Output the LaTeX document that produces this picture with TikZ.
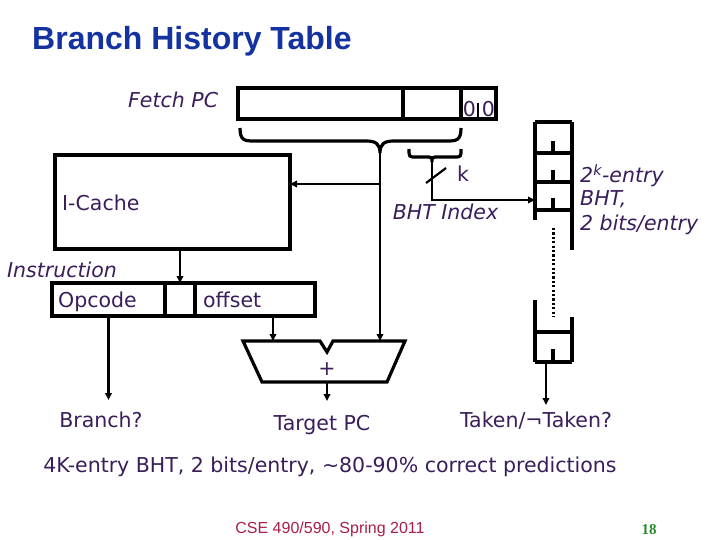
\documentclass[tikz,border=0pt]{standalone}
\usepackage{fontspec}
\setmainfont{DejaVu Sans}
\newfontfamily\titlefont{Liberation Sans}
\newfontfamily\footfont{Liberation Sans}
\newfontfamily\numfont{Liberation Serif}
\usetikzlibrary{arrows.meta}
\definecolor{txt}{RGB}{58,30,90}
\definecolor{ttl}{RGB}{20,50,160}
\definecolor{foot}{RGB}{170,30,70}
\definecolor{pg}{RGB}{40,140,40}
\tikzset{
  box/.style={draw, line width=3.2pt, inner sep=0pt, outer sep=0pt},
  thickline/.style={line width=3.2pt},
  wire/.style={line width=2.2pt},
  arr/.style={line width=2.2pt, -{Triangle[length=7pt,width=6.5pt]}},
  lbl/.style={text=txt, font=\fontsize{20.5}{24}\selectfont, inner sep=0pt},
  ilbl/.style={text=txt, font=\fontsize{20.5}{24}\selectfont\itshape, inner sep=0pt},
}
\begin{document}
\begin{tikzpicture}[x=1pt,y=-1pt]
\useasboundingbox (0,0) rectangle (720,540);
\fill[white] (0,0) rectangle (720,540);

% title
\node[anchor=base west, text=ttl, inner sep=0pt, font=\titlefont\fontsize{32}{38}\selectfont\bfseries] (title) at (32,50) {Branch History Table};

% Fetch PC register
\node[ilbl, anchor=base west] (fetchlbl) at (128,108) {Fetch PC};
\node[box, minimum width=258pt, minimum height=31pt] (fpc) at (367,103.5) {};
\draw[thickline] (403,88) -- (403,119);
\draw[thickline] (461,88) -- (461,119);
\draw[wire] (478,103) -- (478,119);
\node[lbl, anchor=base] (z1) at (469.5,117) {0};
\node[lbl, anchor=base] (z2) at (488.5,117) {0};

% braces
\draw[thickline] (240,128) .. controls (240,141) and (245,141) .. (255,141) -- (366,141)
  .. controls (376,141) and (380,144) .. (380,153)
  .. controls (380,144) and (384,141) .. (394,141) -- (446,141)
  .. controls (456,141) and (461,141) .. (461,128);
\coordinate (bigtip) at (380,152);
\draw[thickline] (409,149) .. controls (409,157) .. (416,157) -- (425,157)
  .. controls (432,157) .. (432,162)
  .. controls (432,157) .. (439,157) -- (454,157)
  .. controls (461,157) .. (461,149);
\coordinate (smalltip) at (432,161);

% I-Cache
\node[box, minimum width=235pt, minimum height=94pt] (icache) at (172.5,202) {};
\node[lbl, anchor=base west] (iclbl) at (62,211) {I-Cache};

% BHT index path
\coordinate (bhtin) at (535,200);
\draw[arr] (smalltip) |- (bhtin);
\draw[wire] (426,183) -- (446,168);
\node[lbl, anchor=base] (klbl) at (463,182) {k};
\node[ilbl, anchor=base] (bhtidx) at (445.5,219) {BHT Index};

% branch from big brace
\coordinate (jn) at (380,184);
\coordinate (addR) at (380,341);
\draw[arr, line width=2.7pt] (bigtip) -- (addR);
\draw[arr] (jn) -- (icache.east |- jn);

% BHT table
\draw[thickline] (535,122) -- (535,220);
\draw[thickline] (572,122) -- (572,250);
\foreach \yy in {122,153,182,210} \draw[thickline] (535,\yy) -- (572,\yy);
\foreach \yy in {153,182,210} \draw[thickline] (553,\yy) -- (553,\yy-12);
\draw[line width=3pt, dash pattern=on 2.2pt off 2.2pt] (553,228) -- (553,317);
\draw[thickline] (535,300) -- (535,362);
\draw[thickline] (572,317) -- (572,362);
\draw[thickline] (535,332) -- (572,332);
\draw[thickline] (535,362) -- (572,362);
\draw[thickline] (553,362) -- (553,349);
\coordinate (bhtout) at (546,362);
\coordinate (takentip) at (546,405);
\draw[arr] (bhtout) -- (takentip);
\node[ilbl, anchor=base west] (bht1) at (580,183) {2\textsuperscript{k}-entry};
\node[ilbl, anchor=base west] (bht2) at (580,206) {BHT,};
\node[ilbl, anchor=base west] (bht3) at (580,230) {2 bits/entry};

% Instruction register
\node[ilbl, anchor=base west] (instrlbl) at (7,277) {Instruction};
\node[box, minimum width=113pt, minimum height=33pt] (opc) at (108.5,299.5) {};
\node[box, minimum width=30pt, minimum height=33pt] (mid) at (180,299.5) {};
\node[box, minimum width=120pt, minimum height=33pt] (off) at (255,299.5) {};
\node[lbl, anchor=base west] (opclbl) at (58,307) {Opcode};
\node[lbl, anchor=base west] (offlbl) at (203,307) {offset};
\draw[arr] (icache.south -| mid.north) -- (mid.north);

% adder
\coordinate (addL) at (273,341);
\coordinate (addOut) at (327,382);
\draw[thickline, line join=miter] (243,341) -- (320,341) -- (327,352) -- (333,341) -- (405,341) -- (387,382) -- (262,382) -- cycle;
\node[lbl] (plus) at (327,369) {+};
\draw[arr] (off.south -| addL) -- (addL);

% outputs
\coordinate (brtip) at (108.5,400);
\coordinate (tpctip) at (327,401);
\draw[arr] (opc.south) -- (brtip);
\draw[arr] (addOut) -- (tpctip);
\node[lbl, anchor=base] (brq) at (101,427) {Branch?};
\node[lbl, anchor=base] (tpc) at (322,430) {Target PC};
\node[lbl, anchor=base] (taken) at (536,427) {Taken/¬Taken?};
\node[lbl, anchor=base] (summary) at (330,472) {4K-entry BHT, 2 bits/entry, \textasciitilde 80-90\% correct predictions};

% footer
\node[anchor=base, text=foot, inner sep=0pt, font=\footfont\fontsize{16}{19}\selectfont] (footer) at (330,533) {CSE 490/590, Spring 2011};
\node[anchor=base, text=pg, inner sep=0pt, font=\numfont\fontsize{15}{18}\selectfont\bfseries] (page) at (649,534) {18};
\end{tikzpicture}
\end{document}
